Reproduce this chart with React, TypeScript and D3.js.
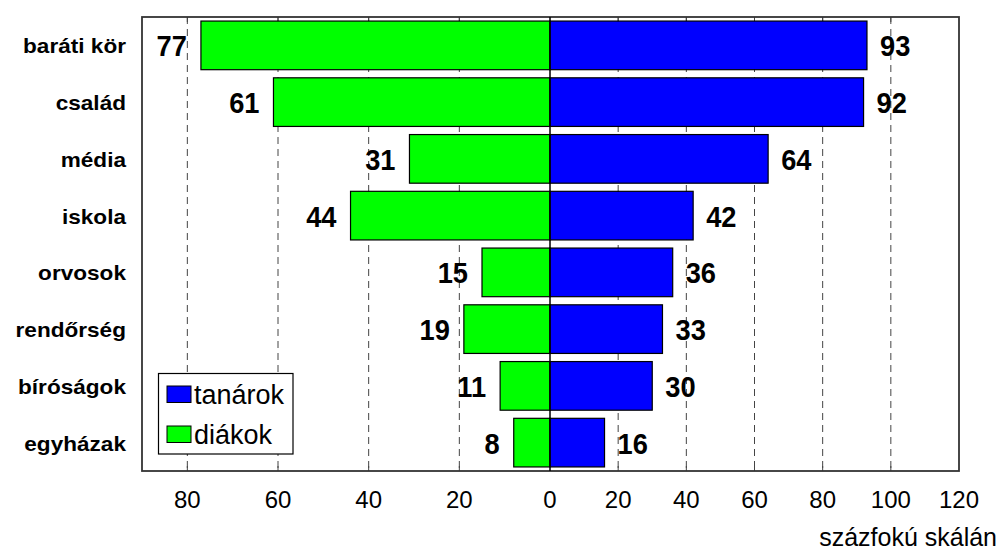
import * as d3 from "d3";
import { useRef, useEffect } from "react";

const categories = ["baráti kör", "család", "média", "iskola", "orvosok", "rendőrség", "bíróságok", "egyházak"];
const diakok = [77, 61, 31, 44, 15, 19, 11, 8];
const tanarok = [93, 92, 64, 42, 36, 33, 30, 16];
const leftTicks = [80, 60, 40, 20, 0];
const rightTicks = [0, 20, 40, 60, 80, 100, 120];
const seriesNames = ["tanárok", "diákok"];
const seriesColors = ["#0000ff", "#00ff00"];

const width = 1000;
const height = 551;

const Chart: React.FC = () => {
  const containerRef = useRef<HTMLDivElement | null>(null);

  useEffect(() => {
    d3.select(containerRef.current).selectAll("svg").remove();

    const top = 17;
    const bottom = 471;
    const left = 142;
    const right = 959;
    const zero = 550;

    // the two halves use different scales
    const xLeft = d3.scaleLinear().domain([0, 90]).range([zero, left]);
    const xRight = d3.scaleLinear().domain([0, 120]).range([zero, right]);
    const y = d3.scaleBand<string>().domain(categories).range([top, bottom]).paddingInner(0.143).paddingOuter(0.0715);

    const svg = d3.create("svg")
      .attr("viewBox", [0, 0, width, height])
      .attr("width", width)
      .attr("height", height)
      .style("font-family", "Arial, 'Liberation Sans', sans-serif")
      .style("display", "block");

    svg.append("rect").attr("width", width).attr("height", height).attr("fill", "#fff");

    // dashed grid
    const grid = svg.append("g").attr("stroke", "#444").attr("stroke-dasharray", "7,5").attr("stroke-width", 1);
    leftTicks.filter(t => t > 0).forEach(t => {
      grid.append("line").attr("x1", xLeft(t)).attr("x2", xLeft(t)).attr("y1", top).attr("y2", bottom);
    });
    rightTicks.filter(t => t > 0 && t < 120).forEach(t => {
      grid.append("line").attr("x1", xRight(t)).attr("x2", xRight(t)).attr("y1", top).attr("y2", bottom);
    });

    // small solid ticks inside top and bottom
    const ticks = svg.append("g").attr("stroke", "#444").attr("stroke-width", 1);
    const tickXs = [...leftTicks.filter(t => t > 0).map(t => xLeft(t)), ...rightTicks.filter(t => t > 0 && t < 120).map(t => xRight(t))];
    tickXs.forEach(x => {
      ticks.append("line").attr("x1", x).attr("x2", x).attr("y1", top).attr("y2", top + 5);
      ticks.append("line").attr("x1", x).attr("x2", x).attr("y1", bottom).attr("y2", bottom - 5);
    });

    // bars
    svg.append("g").selectAll("rect")
      .data(diakok)
      .join("rect")
      .attr("x", d => xLeft(d))
      .attr("y", (d, i) => y(categories[i])!)
      .attr("width", d => zero - xLeft(d))
      .attr("height", y.bandwidth())
      .attr("fill", seriesColors[1])
      .attr("stroke", "#000")
      .attr("stroke-width", 1.2);

    svg.append("g").selectAll("rect")
      .data(tanarok)
      .join("rect")
      .attr("x", zero)
      .attr("y", (d, i) => y(categories[i])!)
      .attr("width", d => xRight(d) - zero)
      .attr("height", y.bandwidth())
      .attr("fill", seriesColors[0])
      .attr("stroke", "#000")
      .attr("stroke-width", 1.2);

    // frame
    svg.append("rect")
      .attr("x", left).attr("y", top)
      .attr("width", right - left).attr("height", bottom - top)
      .attr("fill", "none").attr("stroke", "#333").attr("stroke-width", 1.8);

    // center axis
    svg.append("line")
      .attr("x1", zero).attr("x2", zero).attr("y1", top).attr("y2", bottom)
      .attr("stroke", "#000").attr("stroke-width", 1.5);

    // value labels
    const vals = svg.append("g").attr("font-weight", "bold").attr("font-size", 29).attr("fill", "#000");
    diakok.forEach((d, i) => {
      vals.append("text")
        .attr("transform", `translate(${xLeft(d) - 14},${y(categories[i])! + y.bandwidth() / 2 + 11}) scale(0.94,1)`)
        .attr("text-anchor", "end")
        .text(d);
    });
    tanarok.forEach((d, i) => {
      vals.append("text")
        .attr("transform", `translate(${xRight(d) + 13},${y(categories[i])! + y.bandwidth() / 2 + 11}) scale(0.94,1)`)
        .attr("text-anchor", "start")
        .text(d);
    });

    // category labels
    const cats = svg.append("g").attr("font-weight", "bold").attr("font-size", 20).attr("fill", "#000");
    categories.forEach(c => {
      cats.append("text")
        .attr("transform", `translate(126,${y(c)! + y.bandwidth() / 2 + 8}) scale(1.13,1)`)
        .attr("text-anchor", "end")
        .text(c);
    });

    // tick labels
    const tl = svg.append("g").attr("font-size", 24).attr("fill", "#000").attr("text-anchor", "middle");
    leftTicks.forEach(t => {
      tl.append("text").attr("x", xLeft(t)).attr("y", 508).text(t);
    });
    rightTicks.filter(t => t > 0).forEach(t => {
      tl.append("text").attr("x", xRight(t)).attr("y", 508).text(t);
    });

    svg.append("text")
      .attr("x", 997).attr("y", 546)
      .attr("text-anchor", "end")
      .attr("font-size", 25)
      .text("százfokú skálán");

    // legend
    const lg = svg.append("g");
    lg.append("rect")
      .attr("x", 158.5).attr("y", 373.5).attr("width", 134.5).attr("height", 80.5)
      .attr("fill", "#fff").attr("stroke", "#000").attr("stroke-width", 1.2);
    seriesNames.forEach((n, i) => {
      const yy = 386 + i * 40;
      lg.append("rect")
        .attr("x", 167).attr("y", yy).attr("width", 24).attr("height", 16.5)
        .attr("fill", seriesColors[i]).attr("stroke", "#000").attr("stroke-width", 1);
      lg.append("text")
        .attr("x", 194).attr("y", yy + 17.5)
        .attr("font-size", 27)
        .text(n);
    });

    const node = svg.node();
    if (containerRef.current && node) {
      containerRef.current.appendChild(node);
    }
  }, []);

  return <div ref={containerRef} style={{ position: "absolute", left: 0, top: 0 }}></div>;
};

export default function App() {
  return <Chart />;
}
